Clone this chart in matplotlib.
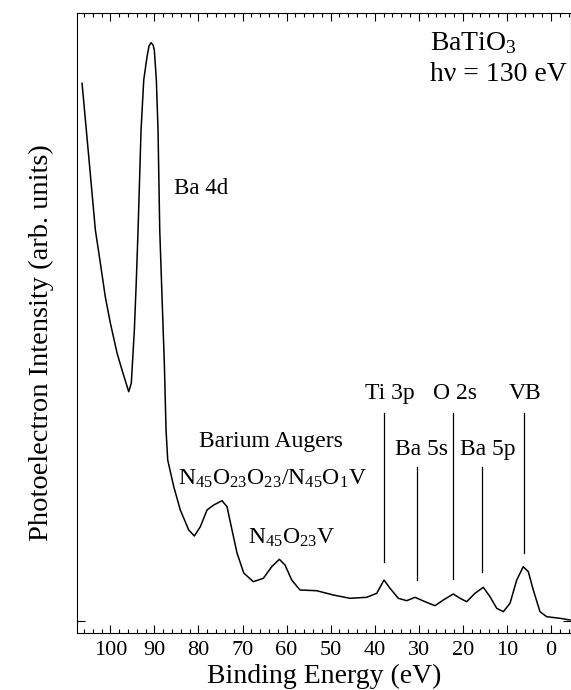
import matplotlib
matplotlib.use("Agg")
import matplotlib.pyplot as plt
import numpy as np
from matplotlib.ticker import MultipleLocator

plt.rcParams['font.family'] = ['Liberation Serif', 'DejaVu Serif']
plt.rcParams['mathtext.fontset'] = 'custom'
plt.rcParams['mathtext.rm'] = 'Liberation Serif'
plt.rcParams['mathtext.it'] = 'Liberation Serif:italic'

# spectrum: binding energy (eV) and intensity (arb. units)
energy = [106.42, 104.90, 103.40, 102.27, 101.14, 100.00, 98.48, 97.35, 95.83,
          95.24, 94.55, 94.10, 93.71, 93.03, 92.42, 91.67, 91.22, 90.76, 90.31,
          90.02, 89.56, 89.18, 88.79, 88.27, 87.75, 87.36, 86.98, 85.61, 84.12,
          82.21, 80.94, 79.58, 78.06, 76.54, 74.65, 73.52, 72.39, 71.25, 69.73,
          67.55, 65.28, 63.38, 61.65, 60.36, 58.84, 56.96, 53.17, 49.40, 45.61,
          41.82, 39.55, 37.89, 36.53, 34.65, 32.74, 30.86, 28.59, 26.32, 24.44,
          22.17, 20.65, 19.13, 17.25, 15.36, 13.84, 12.32, 10.82, 9.30, 7.78,
          6.29, 5.15, 4.02, 2.50, 0.98, -2.04, -4.31]
intensity = [5.377, 4.643, 3.91, 3.58, 3.24, 2.98, 2.68, 2.51, 2.293,
             2.38, 2.91, 3.41, 3.91, 4.91, 5.41, 5.643, 5.75, 5.783, 5.76,
             5.71, 5.41, 4.91, 3.91, 3.24, 2.58, 1.91, 1.61, 1.343, 1.11,
             0.91, 0.85, 0.943, 1.11, 1.16, 1.203, 1.143, 0.91, 0.68, 0.48,
             0.393, 0.427, 0.543, 0.617, 0.56, 0.41, 0.31, 0.303, 0.26, 0.227,
             0.237, 0.277, 0.41, 0.327, 0.227, 0.203, 0.237, 0.193, 0.153, 0.21,
             0.27, 0.227, 0.193, 0.277, 0.337, 0.243, 0.127, 0.093, 0.177, 0.41,
             0.543, 0.493, 0.31, 0.093, 0.043, 0.027, 0.01]

# peak markers: label, line energy, line top, line bottom, label energy, label baseline
peak_names = ["Ti 3p", "Ba 5s", "O 2s", "Ba 5p", "VB"]
peak_energy = [37.89, 30.47, 22.31, 15.72, 6.13]
peak_top = [2.08, 1.543, 2.08, 1.543, 2.08]
peak_bottom = [0.593, 0.41, 0.417, 0.487, 0.683]
label_energy = [36.5, 29.4, 21.8, 14.4, 5.9]
label_y = [2.217, 1.66, 2.217, 1.66, 2.217]

fig = plt.figure(figsize=(5.71, 6.90), dpi=100)
ax = fig.add_axes([0.1349, 0.0826, 0.8651, 0.8986])

ax.plot(energy, intensity, color='black', lw=1.1)

for name, e, t, b, le, ly in zip(peak_names, peak_energy, peak_top, peak_bottom,
                                 label_energy, label_y):
    ax.plot([e, e], [b, t], color='black', lw=0.9)
    ax.text(le, ly, name, ha='center', va='baseline', fontsize=17)

ax.text(79.4, 4.27, "Ba 4d", ha='center', va='baseline', fontsize=16.5)
ax.text(63.6, 1.743, "Barium Augers", ha='center', va='baseline', fontsize=17)
ax.text(63.2, 1.36, r"N$_{45}$O$_{23}$O$_{23}$/N$_{45}$O$_{1}$V",
        ha='center', va='baseline', fontsize=17)
ax.text(58.9, 0.777, r"N$_{45}$O$_{23}$V", ha='center', va='baseline', fontsize=17)
ax.text(27.46, 5.71, r"BaTiO$_3$", ha='left', va='baseline', fontsize=20)
ax.text(27.46, 5.403, "h\u03bd = 130 eV", ha='left', va='baseline', fontsize=20)

ax.set_xlim(107.56, -4.54)
ax.set_ylim(-0.12, 6.08)
ax.xaxis.set_major_locator(MultipleLocator(10))
ax.xaxis.set_minor_locator(MultipleLocator(2))
ax.set_yticks([0])
ax.set_yticklabels([])
ax.tick_params(axis='both', which='both', direction='in', top=True, right=True,
               width=0.8)
ax.tick_params(axis='x', which='major', length=6, labelsize=16, pad=5.5)
ax.tick_params(axis='x', which='minor', length=3)
ax.tick_params(axis='y', which='major', length=6)

ax.set_xlabel("Binding Energy (eV)", fontsize=20, labelpad=3)
ax.set_ylabel("Photoelectron Intensity (arb. units)", fontsize=20.5)
ax.yaxis.set_label_coords(-0.047, 0.468)

fig.savefig("out.png", dpi=100)
